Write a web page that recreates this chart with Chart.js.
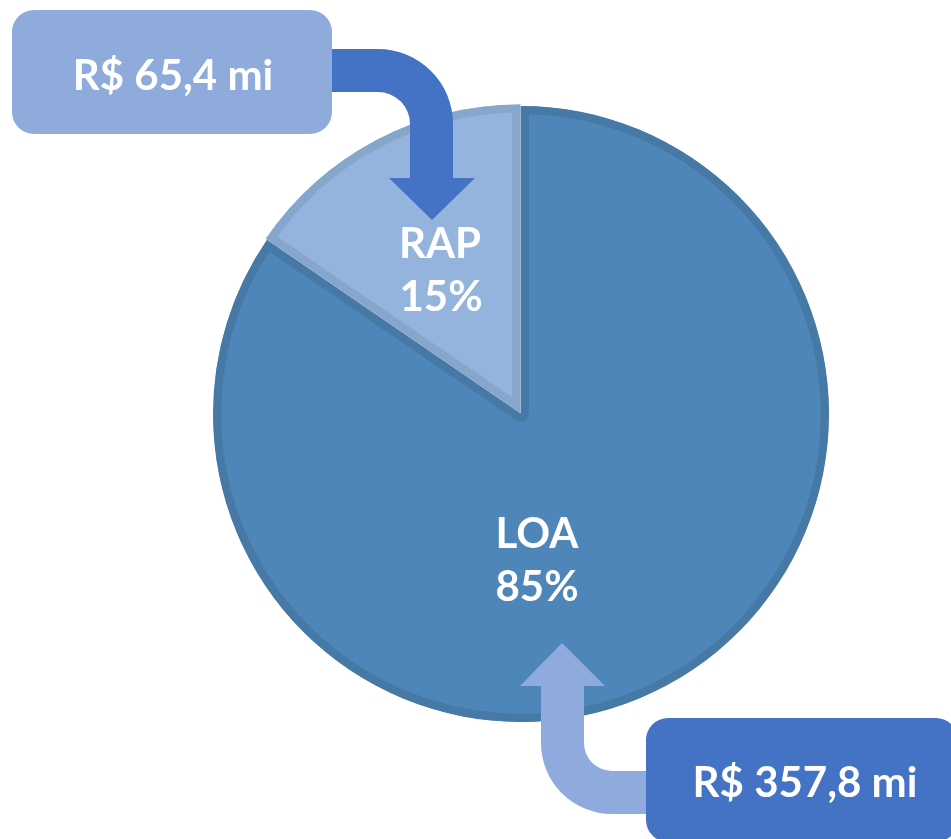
<!DOCTYPE html>
<html>
<head>
<meta charset="utf-8">
<script src="https://cdn.jsdelivr.net/npm/chart.js@4"></script>
<style>
html,body{margin:0;padding:0;background:#fff;}
#wrap{position:relative;width:951px;height:839px;}
</style>
</head>
<body>
<div id="wrap"><canvas id="c"></canvas></div>
<script>
// ---- data ----
const categories = ['LOA', 'RAP'];
const values = [357.8, 65.4];              // R$ milhões
const sliceColors = ['#4F86B9', '#95B4DD'];
const sliceBorders = ['#4779A7', '#87A6CB'];
const explode = [0, 7];

const total = values.reduce((a, b) => a + b, 0);
const pctText = values.map(v => Math.round(v / total * 100) + '%');
const moneyText = values.map(v => 'R$ ' + v.toFixed(1).replace('.', ',') + ' mi');

const FONT = 'bold 42px Lato, "Open Sans", sans-serif';

function roundRect(ctx, x, y, w, h, r) {
  ctx.beginPath();
  ctx.moveTo(x + r, y);
  ctx.lineTo(x + w - r, y);
  ctx.arcTo(x + w, y, x + w, y + r, r);
  ctx.lineTo(x + w, y + h - r);
  ctx.arcTo(x + w, y + h, x + w - r, y + h, r);
  ctx.lineTo(x + r, y + h);
  ctx.arcTo(x, y + h, x, y + h - r, r);
  ctx.lineTo(x, y + r);
  ctx.arcTo(x, y, x + r, y, r);
  ctx.closePath();
}

const calloutPlugin = {
  id: 'callouts',
  afterDatasetsDraw(chart) {
    const ctx = chart.ctx;
    const meta = chart.getDatasetMeta(0);
    const loa = meta.data[0], rap = meta.data[1];
    const cx = loa.x, cy = loa.y;
    ctx.save();

    // arrow from RAP box (dark)
    ctx.fillStyle = '#4472C4';
    ctx.beginPath();
    ctx.moveTo(cx - 200, cy - 365);
    ctx.lineTo(cx - 143, cy - 365);
    ctx.arc(cx - 143, cy - 290, 75, -Math.PI / 2, 0, false);
    ctx.lineTo(cx - 68, cy - 236);
    ctx.lineTo(cx - 46, cy - 236);
    ctx.lineTo(cx - 89, cy - 194);
    ctx.lineTo(cx - 132, cy - 236);
    ctx.lineTo(cx - 111, cy - 236);
    ctx.lineTo(cx - 111, cy - 290);
    ctx.arc(cx - 143, cy - 290, 32, 0, -Math.PI / 2, true);
    ctx.lineTo(cx - 200, cy - 322);
    ctx.closePath();
    ctx.fill();

    // RAP value box
    ctx.fillStyle = '#8FABDC';
    roundRect(ctx, 12, 10, 320, 124, 22);
    ctx.fill();

    // arrow from LOA box (light)
    ctx.fillStyle = '#8FAADC';
    ctx.beginPath();
    ctx.moveTo(cx + 20, cy + 272);
    ctx.lineTo(cx - 1, cy + 272);
    ctx.lineTo(cx + 41, cy + 229);
    ctx.lineTo(cx + 84, cy + 272);
    ctx.lineTo(cx + 63, cy + 272);
    ctx.lineTo(cx + 63, cy + 329);
    ctx.arc(cx + 91, cy + 329, 28, Math.PI, Math.PI / 2, true);
    ctx.lineTo(cx + 140, cy + 357);
    ctx.lineTo(cx + 140, cy + 400);
    ctx.lineTo(cx + 91, cy + 400);
    ctx.arc(cx + 91, cy + 329, 71, Math.PI / 2, Math.PI, false);
    ctx.closePath();
    ctx.fill();

    // LOA value box
    ctx.fillStyle = '#4472C4';
    roundRect(ctx, 646, 718, 312, 124, 22);
    ctx.fill();

    // texts
    ctx.fillStyle = '#FFFFFF';
    ctx.font = FONT;
    ctx.textAlign = 'center';
    ctx.textBaseline = 'alphabetic';
    ctx.fillText(moneyText[1], 173, 90);
    ctx.fillText(moneyText[0], 805, 797);

    // slice labels
    ctx.fillText(categories[1], rap.x - 81, rap.y - 156);
    ctx.fillText(pctText[1], rap.x - 80, rap.y - 103);
    ctx.fillText(categories[0], loa.x + 16, loa.y + 134);
    ctx.fillText(pctText[0], loa.x + 16, loa.y + 187);

    ctx.restore();
  }
};

new Chart(document.getElementById('c'), {
  type: 'pie',
  data: {
    labels: categories,
    datasets: [{
      data: values,
      backgroundColor: sliceColors,
      borderColor: sliceBorders,
      borderWidth: 8,
      borderAlign: 'inner',
      offset: explode,
      hoverOffset: 0
    }]
  },
  options: {
    responsive: true,
    maintainAspectRatio: false,
    animation: false,
    events: [],
    radius: 308,
    layout: { padding: { left: 91, right: 0, top: 0, bottom: 11 } },
    plugins: {
      legend: { display: false },
      tooltip: { enabled: false }
    }
  },
  plugins: [calloutPlugin]
});
</script>
</body>
</html>
